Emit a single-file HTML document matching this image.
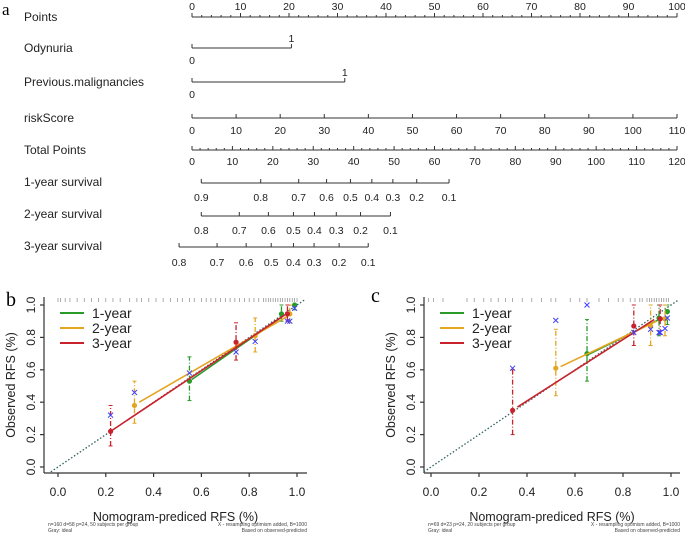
<!DOCTYPE html>
<html><head><meta charset="utf-8"><style>
body{margin:0;background:#fff}
svg{display:block;font-family:"Liberation Sans",Arial,sans-serif}
</style></head><body>
<svg id="fig" width="685" height="534" viewBox="0 0 685 534" xmlns="http://www.w3.org/2000/svg">
<text x="2" y="15" font-family="Liberation Serif" font-size="17">a</text>
<text x="6" y="306" font-family="Liberation Serif" font-size="20">b</text>
<text x="371" y="302" font-family="Liberation Serif" font-size="20">c</text>
<g id="nomo"></g>
<g id="pb"></g>
<g id="pc"></g>
</svg>
<script>
// ---------- nomogram data ----------
const pointsTicks=[0,10,20,30,40,50,60,70,80,90,100];
const odynuriaPoints=[0,20.5];
const prevMalPoints=[0,31.5];
const riskTicks=[0,10,20,30,40,50,60,70,80,90,100,110];
const totalTicks=[0,10,20,30,40,50,60,70,80,90,100,110,120];
const surv1Labels=["0.9","0.8","0.7","0.6","0.5","0.4","0.3","0.2","0.1"];
const surv1Total=[2.3,17,26.4,33.3,39.2,44.5,49.7,55.6,63.6];
const surv2Labels=["0.8","0.7","0.6","0.5","0.4","0.3","0.2","0.1"];
const surv2Total=[2.3,11.7,18.9,25.1,30.3,35.7,41.7,49.1];
const surv3Labels=["0.8","0.7","0.6","0.5","0.4","0.3","0.2","0.1"];
const surv3Total=[-3.2,6.2,13.4,19.6,25.1,30.2,36.4,43.6];

// ---------- calibration data (panel b) ----------
const bPred1=[0.55,0.935,0.99], bObs1=[0.53,0.945,1.0], bLo1=[0.41,0.90,0.97], bHi1=[0.68,1.0,1.0];
const bPred2=[0.32,0.825,0.97], bObs2=[0.38,0.81,0.945], bLo2=[0.27,0.71,0.89], bHi2=[0.53,0.92,1.0];
const bPred3=[0.22,0.745,0.96], bObs3=[0.22,0.77,0.945], bLo3=[0.13,0.66,0.90], bHi3=[0.38,0.89,1.0];
const bXpred=[0.22,0.32,0.55,0.745,0.825,0.96,0.97,0.99];
const bXobs=[0.32,0.46,0.58,0.71,0.775,0.90,0.90,0.98];
const bFit1=[[0.56,0.54],[0.93,0.92]], bFit2=[[0.34,0.40],[0.96,0.93]], bFit3=[[0.22,0.22],[0.95,0.94]];
const bRug=[0.0,0.01,0.03,0.05,0.08,0.11,0.14,0.17,0.2,0.23,0.26,0.3,0.33,0.35,0.38,0.41,0.44,0.47,0.5,0.52,0.55,0.57,0.6,0.62,0.64,0.66,0.68,0.7,0.72,0.74,0.76,0.78,0.8,0.82,0.84,0.86,0.87,0.88,0.89,0.9,0.91,0.92,0.93,0.94,0.95,0.96,0.97,0.98,0.99,1.0];

// ---------- calibration data (panel c) ----------
const cPred1=[0.65,0.95,0.985], cObs1=[0.70,0.92,0.96], cLo1=[0.53,0.81,0.88], cHi1=[0.91,1.0,1.0];
const cPred2=[0.52,0.915,0.975], cObs2=[0.61,0.87,0.915], cLo2=[0.44,0.75,0.81], cHi2=[0.85,1.0,1.0];
const cPred3=[0.34,0.845,0.955], cObs3=[0.35,0.87,0.915], cLo3=[0.20,0.75,0.82], cHi3=[0.60,1.0,1.0];
const cXpred=[0.34,0.52,0.65,0.845,0.915,0.95,0.955,0.975,0.985];
const cXobs=[0.61,0.905,1.0,0.83,0.85,0.83,0.83,0.855,0.92];
const cFit1=[[0.65,0.69],[0.95,0.91]], cFit2=[[0.54,0.62],[0.94,0.90]], cFit3=[[0.36,0.37],[0.93,0.91]];
const cRug=[-0.01,0.01,0.05,0.15,0.18,0.22,0.25,0.28,0.31,0.34,0.38,0.42,0.46,0.5,0.52,0.58,0.62,0.65,0.7,0.74,0.78,0.8,0.83,0.85,0.87,0.88,0.9,0.91,0.92,0.93,0.94,0.95,0.96,0.97,0.98,0.99];

const NS="http://www.w3.org/2000/svg";
function mk(p,tag,at,txt){const e=document.createElementNS(NS,tag);for(const k in at)e.setAttribute(k,at[k]);if(txt!==undefined)e.textContent=txt;p.appendChild(e);return e;}

// nomogram
const nomo=document.getElementById('nomo');
const X0=192,X1=677;
const xP=v=>X0+(X1-X0)*v/100;
const xT=v=>X0+(X1-X0)*v/120;
const xR=v=>X0+(X1-X0)*v/110;
function rowLabel(t,y,name){const e=mk(nomo,'text',{x:24,y:y+4,'font-size':12,fill:'#222'},t);

}
function scale(y,vals,fx,labels,minor,lblDy,name,twoLbl){
 const g=mk(nomo,'g',{stroke:'#333','stroke-width':1});
 
 
 const xs=vals.map(fx);
 mk(g,'line',{x1:Math.min(...xs),x2:Math.max(...xs),y1:y,y2:y});
 const d=-4;
 vals.forEach((v,i)=>{mk(g,'line',{x1:fx(v),x2:fx(v),y1:y,y2:y+d});
  let ly=y+lblDy;
  if(twoLbl){ly=i===0?y+16:y-6;}
  mk(nomo,'text',{x:fx(v),y:ly,'font-size':10.5,'text-anchor':'middle',fill:'#222'},labels[i]);});
 if(minor){for(let i=0;i<vals.length-1;i++){const s=(vals[i+1]-vals[i])/minor;for(let k=1;k<minor;k++){const xx=fx(vals[i]+k*s);mk(g,'line',{x1:xx,x2:xx,y1:y,y2:y+d/2});}}}
}
rowLabel('Points',17,'points-label');
scale(17,pointsTicks,xP,pointsTicks.map(String),5,-7,'points-scale');
rowLabel('Odynuria',48,'odynuria-label');
scale(48,odynuriaPoints,xP,['0','1'],0,0,'odynuria-scale',true);
rowLabel('Previous.malignancies',82,'prev-malignancies-label');
scale(82,prevMalPoints,xP,['0','1'],0,0,'prev-malignancies-scale',true);
rowLabel('riskScore',118,'riskscore-label');
scale(118,riskTicks,xR,riskTicks.map(String),0,16,'riskscore-scale');
rowLabel('Total Points',150,'total-points-label');
scale(150,totalTicks,xT,totalTicks.map(String),5,15,'total-points-scale');
rowLabel('1-year survival',182,'survival-1y-label');
scale(183,surv1Total,xT,surv1Labels,0,18,'survival-1y-scale');
rowLabel('2-year survival',214,'survival-2y-label');
scale(216,surv2Total,xT,surv2Labels,0,18,'survival-2y-scale');
rowLabel('3-year survival',246,'survival-3y-label');
scale(247,surv3Total,xT,surv3Labels,0,19,'survival-3y-scale');

// calibration plots
const COL={g:'#2a9a2a',o:'#e4a520',r:'#c8232c'};
function calib(id,ox0,ox1,axL,axR,d,foot){
 const g=document.getElementById(id);
 const yTop=305,yBot=467;
 const sx=v=>ox0+(ox1-ox0)*v, sy=v=>yBot-(yBot-yTop)*v;
 const ax=mk(g,'g',{stroke:'#333','stroke-width':1.2});
 
 
 mk(ax,'line',{x1:axL,x2:axL,y1:297,y2:473});
 mk(ax,'line',{x1:axL,x2:axR,y1:473,y2:473});
 [0,0.2,0.4,0.6,0.8,1.0].forEach(v=>{
  mk(ax,'line',{x1:axL,x2:axL-4,y1:sy(v),y2:sy(v)});
  mk(ax,'line',{x1:sx(v),x2:sx(v),y1:473,y2:477});
  mk(g,'text',{x:sx(v),y:496,'font-size':12,'text-anchor':'middle',fill:'#222'},v.toFixed(1));
  mk(g,'text',{x:0,y:0,'font-size':12,'text-anchor':'middle',fill:'#222',transform:`translate(${axL-9},${sy(v)}) rotate(-90)`},v.toFixed(1));
 });
 const yl=mk(g,'text',{x:0,y:0,'font-size':12.5,'text-anchor':'middle',fill:'#222',transform:`translate(${axL-29},385) rotate(-90)`},'Observed RFS (%)');
 
 
 const xl=mk(g,'text',{x:(axL+axR)/2,y:521,'font-size':12.5,'text-anchor':'middle',fill:'#222'},'Nomogram-prediced RFS (%)');
 
 
 mk(g,'text',{x:axL+4,y:526,'font-size':5,fill:'#444'},foot);
 mk(g,'text',{x:axL+4,y:532,'font-size':5,fill:'#444'},'Gray: ideal');
 mk(g,'text',{x:axR,y:526,'font-size':5,fill:'#444','text-anchor':'end'},'X - resampling optimism added, B=1000');
 mk(g,'text',{x:axR,y:532,'font-size':5,fill:'#444','text-anchor':'end'},'Based on observed-predicted');
 d.rug.forEach(v=>{const r=mk(g,'line',{x1:sx(v),x2:sx(v),y1:298,y2:302,stroke:'#888','stroke-width':0.7});
  
  });
 const id_=mk(g,'line',{x1:sx(-0.03),y1:sy(-0.03),x2:sx(1.03),y2:sy(1.03),stroke:'#2f5f5f','stroke-width':1.3,'stroke-dasharray':'1.5,2'});
 
 
 const series=[[d.p1,d.o1,d.l1,d.h1,d.f1,COL.g,'1-year'],[d.p2,d.o2,d.l2,d.h2,d.f2,COL.o,'2-year'],[d.p3,d.o3,d.l3,d.h3,d.f3,COL.r,'3-year']];
 series.forEach(s=>{
  const sg=mk(g,'g',{});
  
  
  mk(sg,'line',{x1:sx(s[4][0][0]),y1:sy(s[4][0][1]),x2:sx(s[4][1][0]),y2:sy(s[4][1][1]),stroke:s[5],'stroke-width':1.6});
  s[0].forEach((p,i)=>{
   mk(sg,'line',{x1:sx(p),x2:sx(p),y1:sy(s[2][i]),y2:sy(s[3][i]),stroke:s[5],'stroke-width':1.3,'stroke-dasharray':'5,2,1,2'});
   mk(sg,'line',{x1:sx(p)-2,x2:sx(p)+2,y1:sy(s[2][i]),y2:sy(s[2][i]),stroke:s[5]});
   mk(sg,'line',{x1:sx(p)-2,x2:sx(p)+2,y1:sy(s[3][i]),y2:sy(s[3][i]),stroke:s[5]});
   mk(sg,'circle',{cx:sx(p),cy:sy(s[1][i]),r:2.6,fill:s[5]});
  });
 });
 d.xp.forEach((p,i)=>{const cx=sx(p),cy=sy(d.xo[i]);
  const m=mk(g,'path',{d:`M${cx-2.5},${cy-2.5}L${cx+2.5},${cy+2.5}M${cx-2.5},${cy+2.5}L${cx+2.5},${cy-2.5}`,stroke:'#4040ff','stroke-width':1});
  
  });
 const lg=mk(g,'g',{});
 
 
 series.forEach((s,i)=>{const y=313+15*i;
  mk(lg,'line',{x1:axL+16,x2:axL+40,y1:y,y2:y,stroke:s[5],'stroke-width':2});
  mk(lg,'text',{x:axL+48,y:y+5,'font-size':14,fill:'#222'},s[6]);});
}
calib('pb',58,297,44,307,{p1:bPred1,o1:bObs1,l1:bLo1,h1:bHi1,f1:bFit1,p2:bPred2,o2:bObs2,l2:bLo2,h2:bHi2,f2:bFit2,p3:bPred3,o3:bObs3,l3:bLo3,h3:bHi3,f3:bFit3,xp:bXpred,xo:bXobs,rug:bRug},'n=160 d=58 p=24, 50 subjects per group');
calib('pc',431,671,424,680,{p1:cPred1,o1:cObs1,l1:cLo1,h1:cHi1,f1:cFit1,p2:cPred2,o2:cObs2,l2:cLo2,h2:cHi2,f2:cFit2,p3:cPred3,o3:cObs3,l3:cLo3,h3:cHi3,f3:cFit3,xp:cXpred,xo:cXobs,rug:cRug},'n=69 d=23 p=24, 20 subjects per group');
</script>
</body></html>
